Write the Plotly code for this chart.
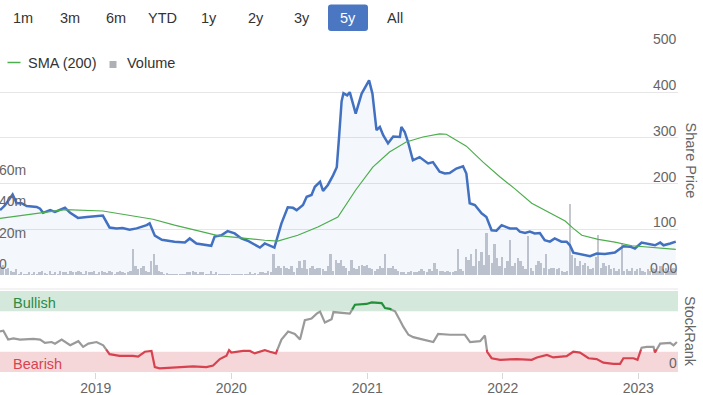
import pandas as pd
import plotly.graph_objects as go

# ---------------- data ----------------
price_dates = [
    "2018-04-18", "2018-05-01", "2018-05-22", "2018-06-02", "2018-06-15", "2018-06-29",
    "2018-07-26", "2018-08-04", "2018-08-12", "2018-08-31", "2018-09-13", "2018-10-10",
    "2018-10-24", "2018-11-14", "2018-12-08", "2019-01-20", "2019-02-07", "2019-02-26",
    "2019-03-14", "2019-04-02", "2019-04-21", "2019-05-18", "2019-05-26", "2019-06-09",
    "2019-06-28", "2019-07-19", "2019-08-01", "2019-08-29", "2019-09-11", "2019-09-29",
    "2019-11-08", "2019-11-17", "2019-12-05", "2019-12-22", "2020-01-10", "2020-01-28",
    "2020-02-14", "2020-03-18", "2020-03-31", "2020-04-26", "2020-05-15", "2020-06-01",
    "2020-06-15", "2020-06-25", "2020-07-12", "2020-07-22", "2020-08-04", "2020-08-13",
    "2020-08-27", "2020-09-04", "2020-09-17", "2020-10-01", "2020-10-11", "2020-10-17",
    "2020-10-24", "2020-10-29", "2020-11-08", "2020-11-15", "2020-12-01", "2020-12-17",
    "2021-01-06", "2021-01-15", "2021-01-26", "2021-02-04", "2021-02-13", "2021-02-26",
    "2021-03-12", "2021-03-30", "2021-04-03", "2021-04-12", "2021-04-21", "2021-05-04",
    "2021-05-22", "2021-06-14", "2021-06-27", "2021-07-15", "2021-07-29", "2021-08-11",
    "2021-08-29", "2021-09-16", "2021-09-25", "2021-10-04", "2021-10-18", "2021-11-05",
    "2021-11-18", "2021-12-02", "2021-12-15", "2021-12-29", "2022-01-20", "2022-02-07",
    "2022-02-16", "2022-03-02", "2022-03-15", "2022-03-28", "2022-04-11", "2022-04-24",
    "2022-05-08", "2022-05-21", "2022-06-08", "2022-06-22", "2022-07-01", "2022-07-10",
    "2022-07-28", "2022-08-24", "2022-09-11", "2022-10-03", "2022-10-30", "2022-11-22",
    "2022-12-10", "2022-12-23", "2023-01-10", "2023-01-24", "2023-02-15", "2023-03-01",
    "2023-03-10", "2023-03-28", "2023-04-12",
]
price_values = [
    142, 152, 176, 157, 157, 151,
    149, 145, 136, 142, 138, 147,
    136, 125, 127, 130, 104, 102,
    103, 99, 102, 109, 113, 86,
    77, 74, 73, 71, 80, 69,
    64, 84, 87, 96, 91, 80,
    75, 60, 69, 60, 113, 148,
    147, 142, 153, 171, 175, 193,
    204, 184, 197, 218, 236, 300,
    380, 398, 393, 400, 353, 397,
    426, 397, 317, 324, 306, 288,
    303, 302, 324, 313, 291, 251,
    258, 244, 247, 226, 222, 223,
    233, 238, 222, 157, 153, 135,
    127, 98, 97, 109, 102, 102,
    95, 92, 95, 91, 92, 76,
    73, 80, 73, 73, 65, 49,
    46, 41, 47, 46, 49, 63,
    62, 58, 71, 68, 65, 71,
    65, 69, 73,
]

sma_dates = [
    "2018-04-18", "2018-08-12", "2018-10-10", "2019-01-20", "2019-04-29", "2019-06-04",
    "2019-08-01", "2019-11-26", "2020-03-31", "2020-05-05", "2020-06-28", "2020-08-21",
    "2020-10-14", "2020-11-15", "2020-12-01", "2021-01-16", "2021-03-02", "2021-04-16",
    "2021-05-31", "2021-07-15", "2021-08-02", "2021-09-25", "2021-11-09", "2021-12-24",
    "2022-02-02", "2022-03-20", "2022-05-03", "2022-06-18", "2022-07-10", "2022-08-02",
    "2022-09-15", "2022-10-30", "2022-12-15", "2023-02-15", "2023-04-12",
]
sma_values = [
    124, 137, 143, 140, 127, 122,
    109, 86, 76, 74, 87, 105,
    127, 165, 186, 236, 269, 291,
    302, 309, 308, 282, 247, 215,
    189, 157, 138, 118, 102, 87,
    78, 72, 64, 60, 56,
]

# weekly volume (millions), first week 2018-04-20
volume_start = "2018-04-20"
volume_millions = [
    5, 7, 4, 4.5, 3, 2, 4, 1, 2, 1,
    0.5, 2, 1, 2.5, 1, 2, 3, 1.5, 0.5, 3,
    1, 2, 0.5, 3, 2, 2.5, 1, 3, 2, 2.5,
    3, 2, 1, 3, 2.5, 2, 3, 1, 2, 3,
    2, 1.5, 3, 2, 1, 2, 3, 2, 1.5, 2,
    3, 17, 6, 4, 5, 6, 3, 2, 9, 14,
    7, 3, 2, 1, 1.5, 1, 0.5, 1, 1, 0.5,
    1, 1, 2.5, 2, 3, 2, 1, 2, 2, 1,
    1, 3, 1, 2, 1, 1, 0.5, 1, 1, 0.5,
    1, 0.5, 1, 1, 0.5, 1, 2, 1, 1.5, 1,
    2, 2, 1.5, 3, 2, 14, 5, 6, 5, 6,
    5, 4, 6, 2, 5, 9, 5, 10, 4, 5,
    6, 4, 5, 5, 4, 3, 6, 14, 3, 10,
    8, 10, 6, 5, 3, 10, 5, 4, 6, 7,
    6, 7, 5, 4, 3, 4, 6, 5, 14, 5,
    5, 6, 4, 3, 2, 2, 1, 2, 3, 2,
    2, 3, 4, 3, 2, 4, 3, 8, 4, 3,
    3, 2, 3, 2, 2, 3, 17, 4, 3, 12,
    10, 14, 6, 17, 9, 15, 7, 27, 13, 8,
    20, 11, 6, 12, 5, 9, 23, 6, 8, 11,
    9, 6, 4, 25, 5, 3, 7, 9, 8, 5,
    14, 4, 5, 5, 4, 5, 3, 2, 3, 46,
    13, 11, 6, 9, 7, 8, 6, 4, 5, 12,
    26, 5, 8, 6, 7, 4, 5, 3, 4, 21,
    3, 4, 3, 5, 3, 4, 5, 3, 2, 4,
    3, 5, 4, 3, 6, 4, 5, 3, 4, 5, 4,
]

rank_dates = [
    "2018-04-18", "2018-04-27", "2018-05-10", "2018-05-24", "2018-06-11", "2018-07-17",
    "2018-08-04", "2018-08-17", "2018-09-04", "2018-09-13", "2018-10-01", "2018-10-24",
    "2018-11-15", "2018-11-28", "2018-12-12", "2019-01-03", "2019-01-21", "2019-02-07",
    "2019-03-06", "2019-04-11", "2019-04-25", "2019-05-13", "2019-05-31", "2019-06-09",
    "2019-06-22", "2019-09-02", "2019-09-20", "2019-10-26", "2019-11-13", "2019-12-01",
    "2019-12-19", "2019-12-26", "2020-01-01", "2020-02-02", "2020-02-20", "2020-03-04",
    "2020-03-18", "2020-03-31", "2020-04-14", "2020-04-30", "2020-05-15", "2020-06-02",
    "2020-06-20", "2020-07-04", "2020-07-17", "2020-08-04", "2020-08-18", "2020-08-27",
    "2020-09-09", "2020-09-27", "2020-10-02", "2020-11-15", "2020-11-29", "2020-12-30",
    "2021-01-13", "2021-02-09", "2021-02-18", "2021-03-03", "2021-03-17", "2021-03-30",
    "2021-04-08", "2021-04-22", "2021-05-05", "2021-06-01", "2021-06-28", "2021-07-11",
    "2021-08-12", "2021-09-21", "2021-10-05", "2021-11-01", "2021-11-14", "2021-11-20",
    "2021-12-02", "2021-12-25", "2022-02-08", "2022-03-20", "2022-04-03", "2022-04-30",
    "2022-05-17", "2022-06-22", "2022-07-10", "2022-07-28", "2022-08-20", "2022-09-11",
    "2022-09-29", "2022-10-26", "2022-11-13", "2022-11-22", "2022-12-19", "2022-12-30",
    "2023-01-10", "2023-01-24", "2023-02-11", "2023-02-15", "2023-03-01", "2023-03-28",
    "2023-04-06", "2023-04-15",
]
rank_values = [
    50, 51, 40, 41.5, 40, 41,
    40, 36, 37, 35, 40, 33,
    38, 31, 35, 37, 33, 22,
    20, 20, 19, 25, 26, 6,
    4.5, 6, 7, 6, 8, 16,
    20, 27, 24, 26, 26, 23,
    25, 27, 25, 23, 40, 50,
    47, 40, 64, 66, 72, 74.5,
    61, 65, 74, 72, 83, 84,
    86, 85, 79, 78, 75, 64,
    56, 46, 43, 40, 37, 47,
    46, 46, 37, 38, 45, 25,
    17, 15, 16, 15, 18, 21,
    18, 19.5, 25, 24, 17, 16,
    11.5, 10, 10, 17, 17, 15,
    30, 31, 31, 24, 35, 36,
    33, 37,
]

price_tick_values = [0, 100, 200, 300, 400, 500]
price_tick_labels = ["0.00", "100", "200", "300", "400", "500"]
volume_tick_values = [0, 20, 40, 60]
volume_tick_labels = ["0", "20m", "40m", "60m"]
range_buttons = ["1m", "3m", "6m", "YTD", "1y", "2y", "3y", "5y", "All"]
selected_button = "5y"

# ---------------- layout constants ----------------
W, H = 703, 395
PW = 678  # plot width in px (right margin 25)
FONT = "Liberation Sans, Arial, sans-serif"
X_RANGE = ["2018-04-18", "2023-04-18"]
BEAR_TOP, BULL_BOTTOM = 25, 75
RED_BELOW, GREEN_ABOVE = 28, 77

def px(x):
    return x / PW

def py(y):
    return 1 - y / H

PRICE_DOMAIN = [py(275), py(46.5)]
RANK_DOMAIN = [py(372), py(291)]

BLUE = "#4371c1"
GREEN = "#4cae4c"

# ---------------- StockRank zone splitting ----------------
def zone_runs(dates, vals, lo, hi):
    ts = pd.to_datetime(pd.Series(dates)).astype("int64").to_numpy() / 1e6
    def zone_of(v):
        return 0 if v < lo else (2 if v > hi else 1)
    runs, cur, cur_zone = [], [], None
    for i in range(len(vals) - 1):
        t0, v0, t1, v1 = ts[i], vals[i], ts[i + 1], vals[i + 1]
        cuts = [0.0]
        for th in (lo, hi):
            if (v0 - th) * (v1 - th) < 0:
                cuts.append((th - v0) / (v1 - v0))
        cuts = sorted(cuts) + [1.0]
        for a, b in zip(cuts[:-1], cuts[1:]):
            pa = (t0 + a * (t1 - t0), v0 + a * (v1 - v0))
            pb = (t0 + b * (t1 - t0), v0 + b * (v1 - v0))
            z = zone_of((pa[1] + pb[1]) / 2)
            if z != cur_zone:
                if cur:
                    runs.append((cur_zone, cur))
                cur, cur_zone = [pa], z
            cur.append(pb)
    if cur:
        runs.append((cur_zone, cur))
    out = {0: ([], []), 1: ([], []), 2: ([], [])}
    for z, pts in runs:
        xs, ys = out[z]
        if xs:
            xs.append(None)
            ys.append(None)
        for t, v in pts:
            xs.append(pd.to_datetime(t, unit="ms").strftime("%Y-%m-%d %H:%M"))
            ys.append(v)
    return out

# ---------------- figure ----------------
fig = go.Figure()

vol_dates = pd.date_range(volume_start, periods=len(volume_millions), freq="7D")
fig.add_trace(go.Bar(
    x=vol_dates, y=[v * 1e6 for v in volume_millions],
    xaxis="x", yaxis="y", marker=dict(color="#c4c7ce", line=dict(width=0)),
    width=5 * 86400000, hoverinfo="skip",
))
fig.add_trace(go.Scatter(
    x=price_dates, y=price_values, xaxis="x", yaxis="y3", mode="lines",
    line=dict(color=BLUE, width=2.5), fill="tozeroy",
    fillcolor="rgba(68,114,196,0.06)", hoverinfo="skip",
))
fig.add_trace(go.Scatter(
    x=sma_dates, y=sma_values, xaxis="x", yaxis="y3", mode="lines",
    line=dict(color=GREEN, width=1.2), hoverinfo="skip",
))

runs = zone_runs(rank_dates, rank_values, RED_BELOW, GREEN_ABOVE)
zone_colors = {0: "#d7424f", 1: "#9a9a9a", 2: "#23913a"}
for z in (1, 0, 2):
    xs, ys = runs[z]
    fig.add_trace(go.Scatter(
        x=xs, y=ys, xaxis="x2", yaxis="y2", mode="lines",
        line=dict(color=zone_colors[z], width=2.2), connectgaps=False, hoverinfo="skip",
    ))

shapes = []
# StockRank bands
shapes.append(dict(type="rect", xref="paper", yref="y2", x0=0, x1=1, y0=BULL_BOTTOM, y1=100,
                   fillcolor="#d4e8dc", line=dict(width=0), layer="below"))
shapes.append(dict(type="rect", xref="paper", yref="y2", x0=0, x1=1, y0=0, y1=BEAR_TOP,
                   fillcolor="#f5d7da", line=dict(width=0), layer="below"))
# separator line above StockRank panel
shapes.append(dict(type="line", xref="paper", yref="paper", x0=0, x1=1, y0=py(289), y1=py(289),
                   line=dict(color="#e6e6e6", width=1)))
# legend symbols
shapes.append(dict(type="line", xref="paper", yref="paper", x0=px(7.5), x1=px(20.5),
                   y0=py(62.5), y1=py(62.5), line=dict(color=GREEN, width=1.5)))
shapes.append(dict(type="rect", xref="paper", yref="paper", x0=px(109.5), x1=px(116.5),
                   y0=py(68), y1=py(61), fillcolor="#aeb0b6", line=dict(width=0)))
# selected range button
bx0, bx1, by0, by1, r = 328, 368, 4.5, 31, 3
path = (f"M {px(bx0 + r)} {py(by0)} L {px(bx1 - r)} {py(by0)} "
        f"Q {px(bx1)} {py(by0)} {px(bx1)} {py(by0 + r)} L {px(bx1)} {py(by1 - r)} "
        f"Q {px(bx1)} {py(by1)} {px(bx1 - r)} {py(by1)} L {px(bx0 + r)} {py(by1)} "
        f"Q {px(bx0)} {py(by1)} {px(bx0)} {py(by1 - r)} L {px(bx0)} {py(by0 + r)} "
        f"Q {px(bx0)} {py(by0)} {px(bx0 + r)} {py(by0)} Z")
shapes.append(dict(type="path", xref="paper", yref="paper", path=path,
                   fillcolor="#4a76c2", line=dict(width=0)))

annotations = []
button_centers = [23, 70, 116, 162.5, 209, 255.7, 301.7, 348, 395]
for lab, cx in zip(range_buttons, button_centers):
    annotations.append(dict(
        text=lab, xref="paper", yref="paper", x=px(cx), y=py(18), xanchor="center",
        yanchor="middle", showarrow=False,
        font=dict(family=FONT, size=14.5, color="#ffffff" if lab == selected_button else "#333333"),
    ))
annotations.append(dict(text="SMA (200)", xref="paper", yref="paper", x=px(26), y=py(63),
                        xanchor="left", yanchor="middle", showarrow=False,
                        font=dict(family=FONT, size=14.5, color="#333333")))
annotations.append(dict(text="Volume", xref="paper", yref="paper", x=px(125), y=py(63),
                        xanchor="left", yanchor="middle", showarrow=False,
                        font=dict(family=FONT, size=14.5, color="#333333")))
for v, lab in zip(price_tick_values, price_tick_labels):
    annotations.append(dict(text=lab, xref="paper", yref="y3", x=1, y=v, xanchor="right",
                            yanchor="middle", yshift=7, xshift=1, showarrow=False,
                            font=dict(family=FONT, size=14, color="#666666")))
for v, lab in zip(volume_tick_values, volume_tick_labels):
    annotations.append(dict(text=lab, xref="paper", yref="y", x=0, y=v * 1e6, xanchor="left",
                            yanchor="middle", yshift=11, xshift=-3, showarrow=False,
                            font=dict(family=FONT, size=14, color="#666666")))
annotations.append(dict(text="0", xref="paper", yref="y2", x=1, y=0, xanchor="right",
                        yanchor="middle", yshift=9, xshift=1, showarrow=False,
                        font=dict(family=FONT, size=14, color="#666666")))
annotations.append(dict(text="Share Price", xref="paper", yref="paper", x=px(690), y=py(160.5),
                        xanchor="center", yanchor="middle", textangle=90, showarrow=False,
                        font=dict(family=FONT, size=14.5, color="#666666")))
annotations.append(dict(text="StockRank", xref="paper", yref="paper", x=px(690), y=py(331),
                        xanchor="center", yanchor="middle", textangle=90, showarrow=False,
                        font=dict(family=FONT, size=14.5, color="#666666")))
annotations.append(dict(text="Bullish", xref="paper", yref="y2", x=px(11), y=87.5,
                        xanchor="left", yanchor="middle", yshift=-2, showarrow=False,
                        font=dict(family=FONT, size=14.5, color="#2c8c43")))
annotations.append(dict(text="Bearish", xref="paper", yref="y2", x=px(11), y=12.5,
                        xanchor="left", yanchor="middle", yshift=-2, showarrow=False,
                        font=dict(family=FONT, size=14.5, color="#d8434f")))

fig.update_layout(
    width=W, height=H,
    margin=dict(l=0, r=W - PW, t=0, b=0, pad=0),
    paper_bgcolor="white", plot_bgcolor="white",
    showlegend=False, hovermode=False, bargap=0,
    font=dict(family=FONT, color="#333333"),
    xaxis=dict(domain=[0, 1], anchor="y", type="date", range=X_RANGE,
               showticklabels=False, showgrid=False, zeroline=False, showline=False,
               automargin=False),
    yaxis=dict(domain=PRICE_DOMAIN, range=[0, 146e6], showticklabels=False,
               showgrid=False, zeroline=False, showline=False, automargin=False),
    yaxis3=dict(overlaying="y", anchor="x", side="right", range=[0, 500],
                tickvals=price_tick_values, showticklabels=False, showgrid=True,
                gridcolor="#e6e6e6", gridwidth=1, zeroline=False, showline=False,
                automargin=False),
    xaxis2=dict(domain=[0, 1], anchor="y2", type="date", range=X_RANGE,
                tick0="2019-01-01", dtick="M12", tickformat="%Y",
                ticks="outside", ticklen=6, tickcolor="#d8d8d8", tickwidth=1,
                ticklabelstandoff=-3,
                tickfont=dict(family=FONT, size=14, color="#666666"),
                showgrid=False, zeroline=False, showline=False, automargin=False),
    yaxis2=dict(domain=RANK_DOMAIN, anchor="x2", range=[0, 100], showticklabels=False,
                showgrid=False, zeroline=False, showline=False, automargin=False),
    shapes=shapes, annotations=annotations,
)

fig.write_html(
    "out.html",
    config={"displayModeBar": False},
    post_script="document.body.style.margin='0px';document.body.style.overflow='hidden';",
)
